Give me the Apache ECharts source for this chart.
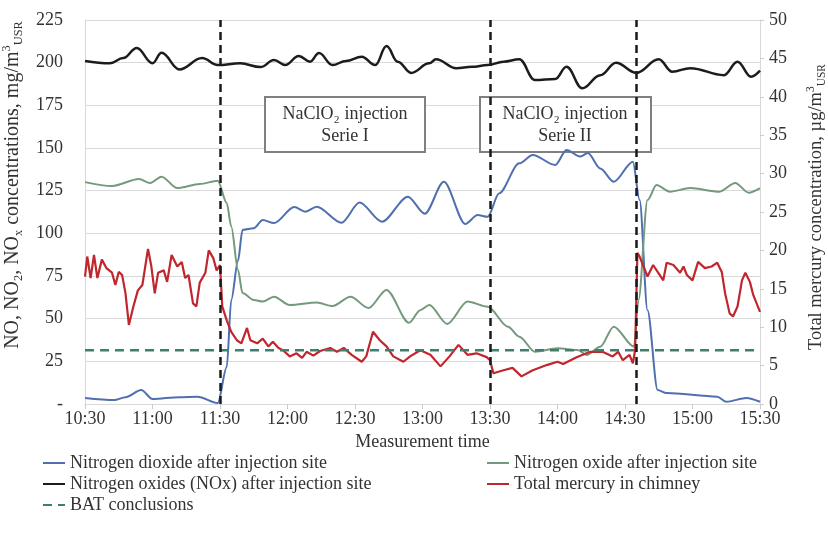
<!DOCTYPE html>
<html>
<head>
<meta charset="utf-8">
<script src="https://cdn.jsdelivr.net/npm/echarts@6/dist/echarts.min.js"></script>
<style>
  html, body { margin: 0; padding: 0; background: #fff; }
  #main { width: 828px; height: 535px; }
</style>
</head>
<body>
<div id="main"></div>
<script>
// time is in minutes of the day (630 = 10:30)
const timeTicks = [630, 660, 690, 720, 750, 780, 810, 840, 870, 900, 930];

// nitrogen dioxide, mg/m3 (left axis)
const no2 = [[630,3.5],[643,2.3],[648,4],[655,8.2],[660,2.9],[672,4],[680,4.3],[689,0.6],[693,21.7],[695,61],[698,84],
  [700,102],[705,103],[709,107.8],[714,106],[723,115.4],[728,112.7],[733,115.6],[744,106.2],[752,118],[762,106.8],
  [773.5,121.5],[781,111.5],[789.5,130.2],[799,105.5],[804.5,110.7],[809,109.7],[814,123.4],[823,141],[829,145.9],
  [839,140],[844,148.8],[850,145],[853.5,147],[859,138],[865,130.2],[873.5,142],[876.5,119.5],[880,55],[884.5,8.2],
  [888.5,6.4],[911,4.3],[915,1.3],[924,3.5],[930,1.3]];

// nitrogen oxide, mg/m3 (left axis)
const no = [[630,130],[642,127.7],[654,131.8],[659,129.5],[664,133.2],[671,126.5],[681,128.9],[689,130.8],[693,117.8],
  [695,104],[698,78.5],[700,65],[705,61],[709,60],[714,62.9],[721,58],[733,59.4],[740,57.4],[748,62.9],[756,56.2],
  [764,66.8],[774,47.6],[779,55],[783,58],[791,46.9],[800,60],[809,57],[818,45.3],[823,39.4],[830,30.6],[840,32.6],
  [849,31.6],[853,28.7],[859,33.6],[865,45.3],[874,33.6],[876,61],[880,119.5],[884,128.3],[890,124.4],[899,126.5],
  [912,124.4],[919,129.5],[925,123.8],[930,126.5]];

// nitrogen oxides (NOx), mg/m3 (left axis)
const nox = [[630,201],[641,199.6],[647,202.7],[653,208.6],[660,199.7],[664,205.8],[672,196],[682,202.7],[689,198.6],
  [699,199.6],[708,197.4],[714,201.5],[719,198.6],[725,203.9],[730,200.6],[734,205.6],[740,198.6],[746,201],[753,203.5],
  [759,198.6],[764,209.7],[769,200.6],[775,194],[783,199.6],[786,202],[795,196.8],[802,197.6],[809,198.6],[816,200.6],
  [823,202],[830,189.8],[839,190.4],[844,197.6],[851,185],[859,192.7],[866,200],[875,194],[885,202],[891,194.7],
  [899,196.8],[914,192.7],[920,200.6],[926,191.8],[930,195.3]];

// total mercury in chimney, ug/m3 (right axis)
const mercury = [[630,16.6],[631,19.2],[632.5,16.4],[634,19.4],[635.5,16.4],[637.5,18.8],[639.5,17.7],[642,17.1],
  [643.5,15.5],[645,17.2],[646.5,16.8],[648,14.4],[649.5,10.3],[651.5,12.7],[653.5,14.8],[655.5,15.5],[658,20.2],
  [659.5,17.9],[661,14.4],[662.5,17.1],[665,17.4],[666.5,15.9],[668.5,19.4],[671,17.9],[673,18.5],[674.5,16.4],
  [676,16.8],[678,13.1],[679.5,12.7],[681,15.8],[683.5,17.1],[685,20],[687,19],[688.5,17.4],[690,18.1],[691,12.7],
  [693,10.9],[695,9.4],[697.5,8.3],[699.5,7.9],[702,9.9],[703.5,8.3],[706.5,7.9],[709,8.5],[711.5,7.5],[713.5,8.1],
  [716,7.3],[718,7.0],[721,6.2],[724,6.6],[726.5,6.0],[728.5,6.8],[731.5,6.3],[734.5,6.9],[739,7.3],[742,6.8],
  [745,7.3],[748.5,6.4],[753,5.5],[755,6.2],[758,9.4],[761,8.3],[764,7.5],[767,6.2],[771.5,5.5],[774.5,6.2],[779,7.0],
  [783.5,6.4],[788,4.9],[792,6.2],[796,7.7],[800,6.4],[804,6.6],[808.5,6.1],[810,5.7],[811.5,4.0],[816,4.4],[820,4.7],
  [824,3.6],[829,4.4],[835.5,5.1],[840,5.5],[842.5,5.2],[848.5,6.1],[854.5,6.8],[860,6.8],[864.5,6.2],[867,6.8],
  [869,5.7],[872,6.4],[873.5,5.3],[874.5,7.0],[875.5,19.7],[876.5,19.2],[880,16.6],[882.5,18.1],[884.5,17.2],[887,16.1],
  [888.5,18.4],[891.5,18.1],[894.5,17.1],[896,17.9],[897.5,16.8],[900,16.1],[902.5,18.5],[905.5,17.7],[908.5,17.9],
  [911,18.4],[913,17.2],[914.5,14.4],[916.5,11.8],[918,11.4],[920,12.7],[922,16.1],[923.5,17.1],[925.5,15.9],
  [927,14.2],[930,12.0]];

// BAT conclusions limit, ug/m3 (right axis)
const batLimit = [[630,7],[930,7]];

// start / end of NaClO2 injection
const injectionMarks = [690, 810, 875];

const serif = '"Liberation Serif", "Times New Roman", serif';
const textColor = '#333';
const gridColor = '#d9d9d9';

const fmtTime = (m) => Math.floor(m / 60) + ':' + String(m % 60).padStart(2, '0');

const myChart = echarts.init(document.getElementById('main'));

const richFor = (size) => ({
  t: { fontFamily: serif, fontSize: size, color: textColor, lineHeight: size + 4 },
  sub: { fontFamily: serif, fontSize: size * 0.62, color: textColor, lineHeight: 10, verticalAlign: 'bottom' },
  sup: { fontFamily: serif, fontSize: size * 0.62, color: textColor, lineHeight: 10, verticalAlign: 'top' },
});

const lineSeries = (name, data, color, width, yIdx, smooth) => ({
  name,
  type: 'line',
  data,
  yAxisIndex: yIdx,
  symbol: 'none',
  smooth,
  smoothMonotone: 'x',
  lineStyle: { color, width },
  itemStyle: { color },
});

const legendBase = {
  top: 454, orient: 'vertical', padding: 0, itemWidth: 22, itemHeight: 14, itemGap: 3,
  itemStyle: { opacity: 0 },
  textStyle: { fontFamily: serif, fontSize: 18, color: textColor },
};

const option = {
  animation: false,
  textStyle: { fontFamily: serif },
  grid: { left: 85, right: 68, top: 20, bottom: 131, outerBoundsMode: 'none' },
  legend: [
    { ...legendBase, left: 42,
      data: ['Nitrogen dioxide after injection site', 'Nitrogen oxides (NOx) after injection site', 'BAT conclusions'] },
    { ...legendBase, left: 486,
      data: ['Nitrogen oxide after injection site', 'Total mercury in chimney'] },
  ],
  xAxis: {
    type: 'value',
    min: timeTicks[0],
    max: timeTicks[timeTicks.length - 1],
    interval: 30,
    name: 'Measurement time',
    nameLocation: 'middle',
    nameGap: 28,
    nameTextStyle: { fontFamily: serif, fontSize: 18, color: textColor },
    axisLine: { show: true, lineStyle: { color: gridColor } },
    axisTick: { show: true, length: 5, lineStyle: { color: '#ccc' } },
    axisLabel: { formatter: fmtTime, fontFamily: serif, fontSize: 18, color: textColor, margin: 6 },
    splitLine: { show: false },
  },
  yAxis: [
    {
      type: 'value',
      min: 0, max: 225, interval: 25,
      name: '{t|NO, NO}{sub|2}{t|, NO}{sub|x}{t| concentrations, mg/m}{sup|3}{sub|USR}',
      nameLocation: 'middle',
      nameGap: 52,
      nameTextStyle: { rich: richFor(20), padding: [0, 0, 0, 54] },
      axisLine: { show: true, lineStyle: { color: gridColor } },
      axisTick: { show: false },
      axisLabel: {
        formatter: (v) => (v === 0 ? '-' : v),
        fontFamily: serif, fontSize: 18, color: textColor, margin: 22,
      },
      splitLine: { lineStyle: { color: gridColor, width: 1 } },
    },
    {
      type: 'value',
      position: 'right',
      min: 0, max: 50, interval: 5,
      name: '{t|Total mercury concentration, \u00b5g/m}{sup|3}{sub|USR}',
      nameLocation: 'middle',
      nameGap: 45,
      nameTextStyle: { rich: richFor(18.5), padding: [0, 0, 0, 10] },
      axisLine: { show: true, lineStyle: { color: gridColor } },
      axisTick: { show: true, length: 4, lineStyle: { color: '#ccc' } },
      axisLabel: { fontFamily: serif, fontSize: 18, color: textColor, margin: 9 },
      splitLine: { show: false },
    },
  ],
  graphic: [
    { type: 'rect', z: 1, shape: { x: 265, y: 97, width: 160, height: 55 },
      style: { fill: '#fff', stroke: '#808080', lineWidth: 2 } },
    { type: 'text', z: 1, x: 345, y: 125,
      style: { text: 'NaClO\u2082 injection\nSerie I', font: '18px ' + serif, fill: textColor,
        textAlign: 'center', textVerticalAlign: 'middle', lineHeight: 22 } },
    { type: 'rect', z: 1, shape: { x: 480, y: 97, width: 171, height: 55 },
      style: { fill: '#fff', stroke: '#808080', lineWidth: 2 } },
    { type: 'text', z: 1, x: 565, y: 125,
      style: { text: 'NaClO\u2082 injection\nSerie II', font: '18px ' + serif, fill: textColor,
        textAlign: 'center', textVerticalAlign: 'middle', lineHeight: 22 } },
  ],
  series: [
    lineSeries('Nitrogen dioxide after injection site', no2, '#4f6fae', 2, 0, 0.3),
    lineSeries('Nitrogen oxide after injection site', no, '#74997c', 2, 0, 0.3),
    lineSeries('Nitrogen oxides (NOx) after injection site', nox, '#1c1c1c', 2.5, 0, 0.4),
    lineSeries('Total mercury in chimney', mercury, '#c0262d', 2.2, 1, false),
    {
      ...lineSeries('BAT conclusions', batLimit, '#3b8072', 2.5, 1, false),
      lineStyle: { color: '#3b8072', width: 2.5, type: [9, 6] },
      markLine: {
        silent: true,
        symbol: 'none',
        label: { show: false },
        lineStyle: { color: '#1a1a1a', width: 2.5, type: [8, 5] },
        data: injectionMarks.map((t) => ({ xAxis: t })),
      },
    },
  ],
};

myChart.setOption(option);
</script>
</body>
</html>
